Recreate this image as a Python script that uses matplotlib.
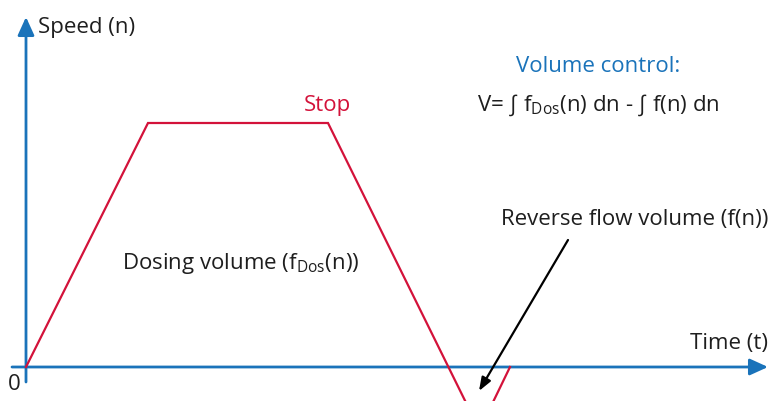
import matplotlib.pyplot as plt
from matplotlib.patches import FancyArrowPatch

plt.rcParams['font.family'] = ['Open Sans', 'DejaVu Sans']
plt.rcParams['mathtext.fontset'] = 'custom'
plt.rcParams['mathtext.rm'] = 'Open Sans'
plt.rcParams['mathtext.it'] = 'Open Sans'

# speed profile (time, speed) in drawing units
time = [0, 122, 302, 453.5, 484]
speed = [0, 244, 244, -63, 0]

blue = '#1a73ba'
red = '#d3123a'
dark = '#1e1e1e'

fig = plt.figure(figsize=(7.71, 4.01), dpi=100)
ax = fig.add_axes([0, 0, 1, 1])
ax.set_xlim(-26, 745)
ax.set_ylim(-34, 367)
ax.axis('off')

# axes with arrows
ax.add_patch(FancyArrowPatch((-14, 0), (742, 0), arrowstyle='-|>,head_length=11,head_width=5',
                             color=blue, lw=2, mutation_scale=1, shrinkA=0, shrinkB=0))
ax.add_patch(FancyArrowPatch((0, -15), (0, 350), arrowstyle='-|>,head_length=11,head_width=5',
                             color=blue, lw=2, mutation_scale=1, shrinkA=0, shrinkB=0))

# speed curve
ax.plot(time, speed, color=red, lw=1.6, solid_joinstyle='miter', clip_on=True)

fs = 16
ax.text(12, 340, 'Speed (n)', fontsize=fs, color=dark, ha='left', va='center')
ax.text(-12, -18, '0', fontsize=fs, color=dark, ha='center', va='center')
ax.text(742, 23, 'Time (t)', fontsize=fs, color=dark, ha='right', va='center')
ax.text(572, 301, 'Volume control:', fontsize=fs, color=blue, ha='center', va='center')
ax.text(451, 262, r'V= ∫ f$_{\mathregular{Dos}}$(n) dn - ∫ f(n) dn', fontsize=fs, color=dark,
        ha='left', va='center')
ax.text(301, 262, 'Stop', fontsize=fs, color=red, ha='center', va='center')
ax.text(96, 104, r'Dosing volume (f$_{\mathregular{Dos}}$(n))', fontsize=fs, color=dark,
        ha='left', va='center')
ax.text(742, 147, 'Reverse flow volume (f(n))', fontsize=fs, color=dark, ha='right', va='center')

# pointer to reverse flow area
ax.annotate('', xy=(453, -24), xytext=(542, 127),
            arrowprops=dict(arrowstyle='-|>,head_length=0.8,head_width=0.3', color='black', lw=1.6,
                            shrinkA=0, shrinkB=0))

fig.savefig('out.png', dpi=100)
